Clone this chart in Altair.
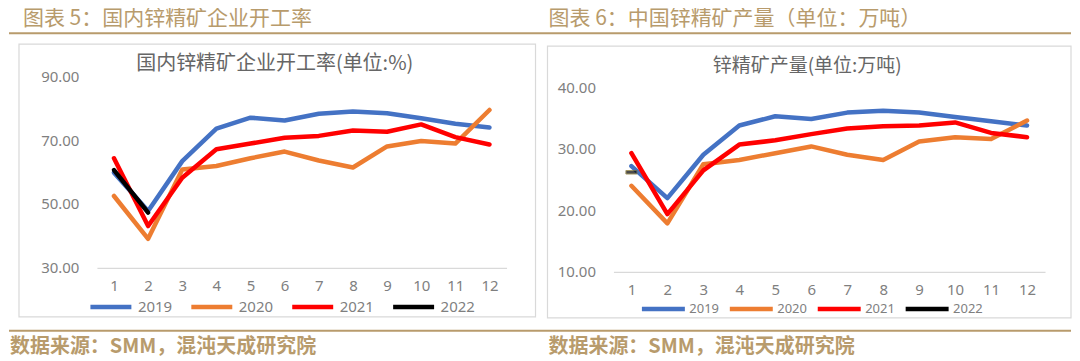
import altair as alt
import pandas as pd

months = [1, 2, 3, 4, 5, 6, 7, 8, 9, 10, 11, 12]
years = ["2019", "2020", "2021", "2022"]
colors = ["#4472C4", "#ED7D31", "#FF0000", "#000000"]

# 国内锌精矿企业开工率 (%)
rate_2019 = [59.8, 47.8, 63.4, 73.6, 77.0, 76.1, 78.2, 78.9, 78.4, 76.8, 75.1, 73.9]
rate_2020 = [52.5, 39.1, 60.8, 61.9, 64.3, 66.4, 63.6, 61.4, 68.0, 69.7, 68.9, 79.4]
rate_2021 = [64.3, 43.1, 58.2, 67.1, 68.9, 70.7, 71.3, 73.0, 72.6, 74.9, 70.9, 68.6]
rate_2022 = [60.6, 47.3]

# 锌精矿产量 (万吨)
prod_2019 = [27.2, 22.0, 29.05, 33.8, 35.3, 34.85, 35.9, 36.2, 35.9, 35.2, 34.5, 33.8]
prod_2020 = [24.0, 17.9, 27.5, 28.2, 29.3, 30.4, 29.05, 28.2, 31.2, 31.9, 31.6, 34.6]
prod_2021 = [29.3, 19.4, 26.5, 30.7, 31.4, 32.4, 33.3, 33.7, 33.8, 34.3, 32.6, 31.9]
prod_2022 = [26.2]

left_ticks = [30, 50, 70, 90]
right_ticks = [10, 20, 30, 40]

header_left = "图表 5：国内锌精矿企业开工率"
header_right = "图表 6：中国锌精矿产量（单位：万吨）"
title_left = "国内锌精矿企业开工率(单位:%)"
title_right = "锌精矿产量(单位:万吨)"
source_text = "数据来源：SMM，混沌天成研究院"


def frame(series):
    rows = []
    for y, vals in zip(years, series):
        for m, v in zip(months, vals):
            rows.append({"month": m, "year": y, "value": v})
    return pd.DataFrame(rows)


df_left = frame([rate_2019, rate_2020, rate_2021, rate_2022])
df_right = frame([prod_2019, prod_2020, prod_2021, prod_2022])

GOLD = "#b89b6c"
LABEL = "#7f7f7f"
TITLE = "#666666"
CJK = "Noto Sans CJK SC"
NUM = "Noto Sans"

one = alt.Data(values=[{"a": 1}])


def txt(text, x, y, size, color, align="left", font=CJK, weight="normal"):
    return alt.Chart(one).mark_text(
        text=text, align=align, baseline="middle", fontSize=size, color=color,
        font=font, fontWeight=weight
    ).encode(x=alt.value(x), y=alt.value(y))


def rule(x1, x2, y, color, w):
    return alt.Chart(one).mark_rule(color=color, strokeWidth=w).encode(
        x=alt.value(x1), x2=alt.value(x2), y=alt.value(y)
    )


def box(x1, y1, x2, y2):
    return alt.Chart(one).mark_rect(fill=None, stroke="#d9d9d9", strokeWidth=1.2).encode(
        x=alt.value(x1), x2=alt.value(x2), y=alt.value(y1), y2=alt.value(y2)
    )


def spacer(x, y):
    return alt.Chart(one).mark_rect(opacity=0).encode(
        x=alt.value(x), x2=alt.value(x + 1), y=alt.value(y), y2=alt.value(y + 1)
    )


def panel(df, domain, ticks, legend_x, legend_y, lab_size, sym_len, col_pad, lab_off):
    x = alt.X("month:O", scale=alt.Scale(type="point", domain=months, padding=0.5),
              axis=alt.Axis(title=None, labelAngle=0, ticks=False, domainColor="#d9d9d9",
                            domainWidth=1.2, labelColor=LABEL, labelFontSize=15, labelFont=NUM,
                            labelPadding=11, grid=False))
    y = alt.Y("value:Q", scale=alt.Scale(domain=domain, nice=False, zero=False),
              axis=alt.Axis(title=None, values=ticks, format=".2f", ticks=False, domain=False,
                            grid=False, labelColor=LABEL, labelFontSize=15, labelFont=NUM,
                            labelPadding=18))
    color = alt.Color("year:N", scale=alt.Scale(domain=years, range=colors),
                      legend=alt.Legend(orient="none", legendX=legend_x, legendY=legend_y,
                                        direction="horizontal", title=None, columns=4,
                                        symbolType="stroke", symbolSize=sym_len * sym_len,
                                        symbolStrokeWidth=4.5, labelFontSize=lab_size,
                                        labelColor=LABEL, labelFont=NUM, columnPadding=col_pad,
                                        labelOffset=lab_off, padding=0))
    return alt.Chart(df).mark_line(strokeWidth=4.5, strokeCap="round", strokeJoin="round").encode(
        x=x, y=y, color=color, detail="year:N"
    )


# left panel: plot area at page (96,75), 410 x 192
left_lines = panel(df_left, [30, 90], left_ticks, -9, 208, 15, 41, 9, 4)
left = alt.layer(
    spacer(-88, -67),
    spacer(-88, 284),
    box(-78, -32, 439, 241),
    rule(-88, 975, -43, GOLD, 2),
    rule(-88, 975, 255, GOLD, 2),
    txt(header_left, -74, -57, 21, GOLD),
    txt(source_text, -87, 271, 20, GOLD, weight="bold"),
    txt(title_left, 178, -12, 20, TITLE, align="center"),
    left_lines,
).properties(width=410, height=192)

# right panel: plot area at page (613,75), 432 x 196
df_right_lines = df_right[df_right["year"] != "2022"]
right_lines = panel(df_right_lines, [10, 10 + 196 / 6.157], right_ticks, 26, 209, 13, 43, 1, 2)
right_tick = alt.Chart(df_right[df_right["year"] == "2022"]).mark_tick(
    size=11, thickness=3.5, color="#000000", stroke="#7a6a20", strokeWidth=1
).encode(x=alt.X("month:O", scale=alt.Scale(type="point", domain=months, padding=0.5)),
         y=alt.Y("value:Q"))
right = alt.layer(
    box(-66, -30, 458, 242),
    txt(header_right, -65, -57, 21, GOLD),
    txt(source_text, -65, 271, 20, GOLD, weight="bold"),
    txt(title_right, 194, -10, 19, TITLE, align="center"),
    right_lines,
    right_tick,
).properties(width=432, height=196)

chart = alt.hconcat(left, right, spacing=107, bounds="flush").resolve_scale(
    x="independent", y="independent", color="independent"
).resolve_legend(color="independent").properties(padding=0).configure_view(stroke=None)

chart.save("out.html", embed_options={"renderer": "svg", "actions": False})
